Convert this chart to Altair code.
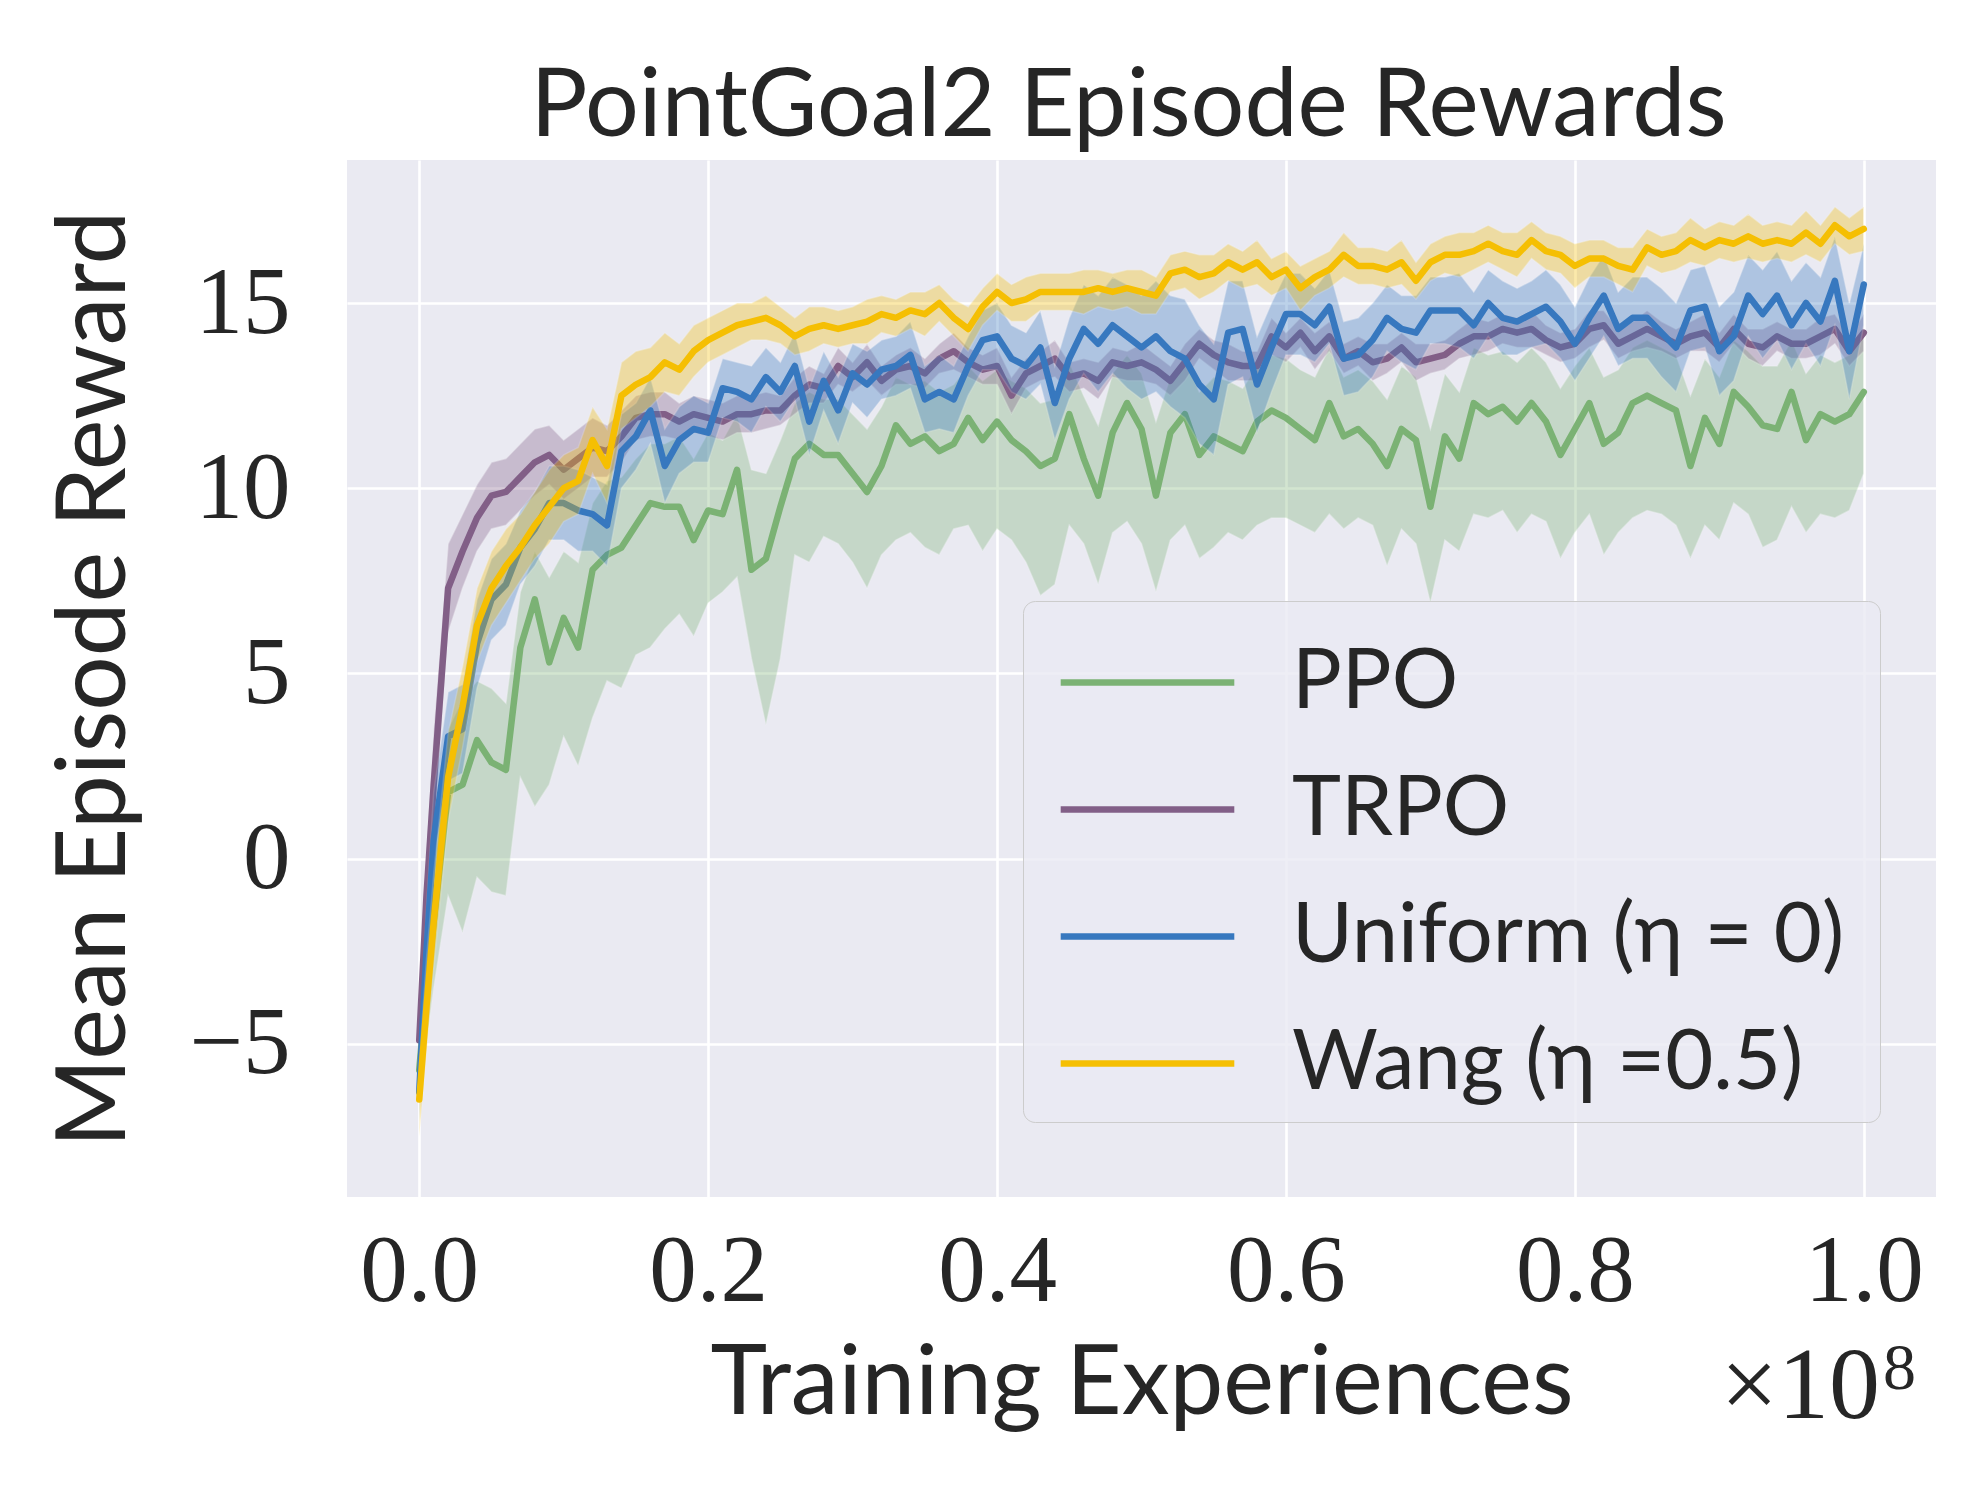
import altair as alt
import pandas as pd

# x grid (fraction of 1e8 training experiences)
X = [0.0, 0.005] + [round(0.01 * i, 2) for i in range(1, 101)]

SERIES = ["PPO", "TRPO", "Uniform (η = 0)", "Wang (η =0.5)"]
COLORS = ["#7bb274", "#825f87", "#3778bf", "#f5bf03"]

PPO_MEAN = [-5.7, -3.5, -1.7, 1.8, 2.0, 3.2, 2.6, 2.4, 5.7, 7.0,
            5.3, 6.5, 5.7, 7.8, 8.2, 8.4, 9.0, 9.6, 9.5, 9.5,
            8.6, 9.4, 9.3, 10.5, 7.8, 8.1, 9.5, 10.8, 11.2, 10.9,
            10.9, 10.4, 9.9, 10.6, 11.7, 11.2, 11.4, 11.0, 11.2, 11.9,
            11.3, 11.8, 11.3, 11.0, 10.6, 10.8, 12.0, 10.8, 9.8, 11.5,
            12.3, 11.6, 9.8, 11.5, 12.0, 10.9, 11.4, 11.2, 11.0, 11.8,
            12.1, 11.9, 11.6, 11.3, 12.3, 11.4,
            11.6, 11.2, 10.6, 11.6, 11.3, 9.5, 11.4, 10.8, 12.3, 12.0,
            12.2, 11.8, 12.3, 11.8, 10.9, 11.6, 12.3, 11.2, 11.5, 12.3,
            12.5, 12.3, 12.1, 10.6, 11.9, 11.2, 12.6, 12.2, 11.7, 11.6,
            12.6, 11.3, 12.0, 11.8, 12.0, 12.6]
PPO_LO = [-6.5, -5.0, -3.5, -1.0, -2.0, -0.5, -0.9, -1.0, 2.2, 1.4,
          2.0, 3.3, 2.5, 3.8, 4.8, 4.6, 5.5, 5.7, 6.2, 6.6,
          6.0, 6.9, 7.2, 7.6, 5.4, 3.6, 5.4, 8.2, 8.0, 8.7,
          8.5, 8.0, 7.3, 8.2, 8.6, 8.8, 8.4, 8.2, 8.9, 9.0,
          8.3, 8.9, 8.6, 8.0, 7.1, 7.4, 9.0, 8.5, 7.4, 8.8,
          9.1, 8.5, 7.2, 8.6, 9.0, 8.1, 8.4, 8.8, 8.6, 9.0,
          9.2, 9.2, 9.0, 8.8, 9.3, 8.9,
          9.2, 9.0, 7.9, 8.9, 8.5, 6.9, 8.6, 8.3, 9.3, 9.2,
          9.4, 8.8, 9.3, 9.1, 8.1, 8.8, 9.3, 8.2, 8.8, 9.2,
          9.4, 9.3, 9.0, 8.1, 9.0, 8.6, 9.6, 9.3, 8.4, 8.6,
          9.5, 8.8, 9.3, 9.2, 9.4, 10.4]
PPO_HI = [-5.0, -2.5, 0.0, 3.5, 4.3, 4.8, 4.6, 4.2, 7.2, 8.3,
          7.6, 8.3, 8.0, 9.6, 10.2, 10.3, 10.8, 11.2, 11.2, 11.4,
          10.8, 11.5, 11.3, 12.0, 10.5, 10.4, 11.3, 12.3, 12.6, 12.4,
          12.4, 12.0, 11.6, 12.2, 13.0, 12.8, 12.9, 12.6, 12.8, 13.3,
          12.9, 13.2, 12.9, 12.7, 12.3, 12.4, 13.4, 12.5, 11.7, 13.1,
          13.6, 13.1, 11.8, 13.0, 13.5, 12.6, 13.0, 12.9, 12.7, 13.3,
          13.6, 13.5, 13.2, 13.0, 13.8, 13.0,
          13.2, 12.9, 12.4, 13.3, 13.0, 11.6, 13.1, 12.6, 13.8, 13.6,
          13.7, 13.4, 13.8, 13.4, 12.7, 13.3, 13.8, 13.0, 13.2, 13.8,
          14.0, 13.8, 13.6, 12.5, 13.5, 13.0, 14.0, 13.7, 13.3, 13.3,
          14.0, 13.1, 13.6, 13.4, 13.6, 14.2]

TRPO_MEAN = [-4.9, -1.0, 2.0, 7.3, 8.3, 9.2, 9.8, 9.9, 10.3, 10.7,
             10.9, 10.5, 10.8, 11.1, 11.0, 11.4, 11.9, 12.0, 12.0, 11.8,
             12.0, 11.9, 11.8, 12.0, 12.0, 12.1, 12.1, 12.5, 12.8, 12.7,
             13.3, 13.0, 13.4, 12.9, 13.2, 13.3, 13.1, 13.5, 13.7, 13.4,
             13.2, 13.3, 12.5, 13.1, 13.3, 13.5, 13.0, 13.1, 12.9, 13.4,
             13.3, 13.4, 13.2, 12.9, 13.4, 13.9, 13.6, 13.4, 13.3, 13.3,
             14.1, 13.8, 14.2, 13.7, 14.1, 13.5,
             13.7, 13.4, 13.5, 13.8, 13.4, 13.5, 13.6, 13.9, 14.1, 14.1,
             14.3, 14.2, 14.3, 14.0, 13.8, 13.9, 14.3, 14.4, 13.9, 14.1,
             14.3, 14.1, 13.9, 14.1, 14.2, 13.8, 14.3, 13.9, 13.8, 14.1,
             13.9, 13.9, 14.1, 14.3, 13.7, 14.2]
TRPO_SPREAD = [0.8, 1.2, 1.5, 1.2, 1.0, 0.9, 0.9, 0.9, 0.9, 0.9,
               0.8, 0.8, 0.8, 0.8, 0.7, 0.7, 0.6, 0.6, 0.6, 0.5,
               0.5, 0.5, 0.5, 0.5, 0.5, 0.5, 0.4, 0.5, 0.5, 0.4,
               0.5, 0.4, 0.5, 0.4, 0.4, 0.5, 0.4, 0.4, 0.5, 0.4,
               0.4, 0.5, 0.5, 0.4, 0.4, 0.5, 0.4, 0.4, 0.5, 0.4,
               0.4, 0.5, 0.4, 0.4, 0.5, 0.4, 0.4, 0.5, 0.4, 0.4,
               0.5, 0.4, 0.4, 0.5, 0.4, 0.4,
               0.4, 0.5, 0.4, 0.4, 0.5, 0.4, 0.4, 0.4, 0.5, 0.4,
               0.4, 0.4, 0.5, 0.4, 0.4, 0.4, 0.5, 0.4, 0.4, 0.4,
               0.5, 0.4, 0.4, 0.4, 0.5, 0.4, 0.4, 0.4, 0.5, 0.4,
               0.4, 0.4, 0.5, 0.4, 0.4, 0.5]

UNI_MEAN = [-6.3, -2.5, 0.5, 3.3, 3.5, 5.8, 7.0, 7.4, 8.4, 8.9,
            9.6, 9.6, 9.4, 9.3, 9.0, 11.0, 11.4, 12.1, 10.6, 11.3,
            11.6, 11.5, 12.7, 12.6, 12.4, 13.0, 12.6, 13.3, 11.8, 12.9,
            12.1, 13.1, 12.8, 13.2, 13.3, 13.6, 12.4, 12.6, 12.4, 13.3,
            14.0, 14.1, 13.5, 13.3, 13.8, 12.3, 13.5, 14.3, 13.9, 14.4,
            14.1, 13.8, 14.1, 13.7, 13.5, 12.8, 12.4, 14.2, 14.3, 12.8,
            13.8, 14.7, 14.7, 14.4, 14.9, 13.5,
            13.6, 14.0, 14.6, 14.3, 14.2, 14.8, 14.8, 14.8, 14.4, 15.0,
            14.6, 14.5, 14.7, 14.9, 14.5, 13.9, 14.6, 15.2, 14.3, 14.6,
            14.6, 14.2, 13.8, 14.8, 14.9, 13.7, 14.1, 15.2, 14.7, 15.2,
            14.4, 15.0, 14.5, 15.6, 13.7, 15.5]
UNI_SPREAD = [0.8, 1.2, 1.3, 1.2, 1.2, 1.2, 1.1, 1.1, 1.0, 1.0,
              1.0, 1.0, 1.1, 1.0, 1.1, 1.0, 0.9, 0.9, 1.0, 0.9,
              0.9, 0.8, 0.8, 0.8, 0.9, 0.8, 0.8, 0.9, 0.9, 0.8,
              0.9, 0.8, 0.9, 0.8, 0.8, 0.9, 0.9, 1.0, 0.9, 0.8,
              0.8, 0.9, 0.9, 0.9, 1.0, 1.0, 1.1, 1.2, 1.3, 1.3,
              1.4, 1.4, 1.5, 1.5, 1.6, 1.6, 1.5, 1.4, 1.3, 1.3,
              1.2, 1.1, 1.1, 1.0, 1.0, 1.0,
              1.0, 1.0, 0.9, 0.9, 1.0, 0.9, 0.9, 1.0, 0.9, 0.9,
              1.0, 0.9, 0.9, 1.0, 1.0, 1.0, 1.1, 1.1, 1.0, 1.1,
              1.1, 1.2, 1.2, 1.1, 1.1, 1.2, 1.2, 1.1, 1.2, 1.2,
              1.2, 1.1, 1.2, 1.2, 1.3, 1.1]

WANG_MEAN = [-6.5, -4.0, -1.7, 2.2, 4.1, 6.3, 7.3, 7.9, 8.4, 9.0,
             9.5, 10.0, 10.2, 11.3, 10.6, 12.5, 12.8, 13.0, 13.4, 13.2,
             13.7, 14.0, 14.2, 14.4, 14.5, 14.6, 14.4, 14.1, 14.3, 14.4,
             14.3, 14.4, 14.5, 14.7, 14.6, 14.8, 14.7, 15.0, 14.6, 14.3,
             14.9, 15.3, 15.0, 15.1, 15.3, 15.3, 15.3, 15.3, 15.4, 15.3,
             15.4, 15.3, 15.2, 15.8, 15.9, 15.7, 15.8, 16.1, 15.9, 16.1,
             15.7, 15.9, 15.4, 15.7, 15.9, 16.3,
             16.0, 16.0, 15.9, 16.1, 15.6, 16.1, 16.3, 16.3, 16.4, 16.6,
             16.4, 16.3, 16.7, 16.4, 16.3, 16.0, 16.2, 16.2, 16.0, 15.9,
             16.5, 16.3, 16.4, 16.7, 16.5, 16.7, 16.6, 16.8, 16.6, 16.7,
             16.6, 16.9, 16.6, 17.1, 16.8, 17.0]
WANG_SPREAD = [1.0, 1.3, 1.3, 1.2, 1.1, 1.0, 1.0, 1.0, 0.9, 0.9,
               1.0, 0.9, 0.9, 0.9, 1.0, 0.9, 0.9, 0.8, 0.8, 0.7,
               0.7, 0.6, 0.6, 0.6, 0.5, 0.6, 0.5, 0.5, 0.6, 0.5,
               0.5, 0.5, 0.6, 0.5, 0.5, 0.5, 0.6, 0.5, 0.5, 0.6,
               0.5, 0.5, 0.5, 0.6, 0.5, 0.5, 0.5, 0.6, 0.5, 0.5,
               0.5, 0.6, 0.5, 0.5, 0.5, 0.6, 0.5, 0.5, 0.5, 0.6,
               0.5, 0.5, 0.6, 0.5, 0.5, 0.6,
               0.5, 0.5, 0.5, 0.6, 0.5, 0.5, 0.5, 0.6, 0.5, 0.5,
               0.5, 0.6, 0.5, 0.5, 0.5, 0.6, 0.5, 0.5, 0.5, 0.6,
               0.5, 0.5, 0.5, 0.6, 0.5, 0.5, 0.5, 0.6, 0.5, 0.5,
               0.5, 0.6, 0.5, 0.5, 0.5, 0.6]

X_TICKS = [0.0, 0.2, 0.4, 0.6, 0.8, 1.0]
Y_TICKS = [-5, 0, 5, 10, 15]

for arr in [PPO_MEAN, PPO_LO, PPO_HI, TRPO_MEAN, TRPO_SPREAD, UNI_MEAN,
            UNI_SPREAD, WANG_MEAN, WANG_SPREAD]:
    assert len(arr) == len(X), len(arr)

bands = {
    "PPO": (PPO_MEAN, PPO_LO, PPO_HI),
    "TRPO": (TRPO_MEAN, [m - s for m, s in zip(TRPO_MEAN, TRPO_SPREAD)],
             [m + s for m, s in zip(TRPO_MEAN, TRPO_SPREAD)]),
    "Uniform (η = 0)": (UNI_MEAN, [m - s for m, s in zip(UNI_MEAN, UNI_SPREAD)],
                        [m + s for m, s in zip(UNI_MEAN, UNI_SPREAD)]),
    "Wang (η =0.5)": (WANG_MEAN, [m - s for m, s in zip(WANG_MEAN, WANG_SPREAD)],
                      [m + s for m, s in zip(WANG_MEAN, WANG_SPREAD)]),
}

rows = []
for name in SERIES:
    m, lo, hi = bands[name]
    for x, a, l, h in zip(X, m, lo, hi):
        rows.append({"x": x, "y": a, "lo": l, "hi": h, "algo": name})
df = pd.DataFrame(rows)

TEXT = "#262626"
SANS = "Lato"
SERIF = "Liberation Serif"

W, H = 1589, 1037

xscale = alt.Scale(domain=[-0.05, 1.05], nice=False, zero=False)
yscale = alt.Scale(domain=[-9.13, 18.86], nice=False, zero=False)
cscale = alt.Scale(domain=SERIES, range=COLORS)

xaxis = alt.Axis(values=X_TICKS, format=".1f", title="Training Experiences",
                 labelBaseline="alphabetic", labelPadding=103,
                 titleY=216, titleBaseline="alphabetic")
yaxis = alt.Axis(values=Y_TICKS, format="d", title="Mean Episode Reward",
                 labelPadding=57, titleX=-252, titleY=H / 2,
                 titleBaseline="middle", titleAlign="center", titleAngle=270)

legend = alt.Legend(title=None, orient="none", legendX=676, legendY=441,
                    symbolType="M-1.4,0H1.4", symbolSize=15376,
                    symbolStrokeWidth=6.5, symbolOffset=43,
                    labelFont=SANS, labelFontSize=83, labelColor=TEXT,
                    labelOffset=79, rowPadding=19, padding=16, labelLimit=2000,
                    labelExpr="datum.label + '\u00a0\u200b'",
                    fillColor="rgba(234,234,242,0.8)", strokeColor="#cccccc",
                    cornerRadius=12)

layers = []
for i, name in enumerate(SERIES):
    base = alt.Chart(df).transform_filter(alt.datum.algo == name)
    band = base.mark_area(color=COLORS[i], opacity=0.33, stroke="white",
                          strokeWidth=1.5, strokeOpacity=0.45).encode(
        x=alt.X("x:Q", scale=xscale, axis=xaxis),
        y=alt.Y("lo:Q", scale=yscale, axis=yaxis),
        y2="hi:Q",
    )
    line = base.mark_line(strokeWidth=6.5, strokeJoin="round",
                          strokeCap="round").encode(
        x=alt.X("x:Q", scale=xscale, axis=xaxis),
        y=alt.Y("y:Q", scale=yscale, axis=yaxis),
        color=alt.Color("algo:N", scale=cscale, legend=legend),
    )
    layers += [band, line]

note = alt.Chart(alt.Data(values=[{}]))
offset_a = note.mark_text(text="×10", font=SERIF, fontSize=102, color=TEXT,
                          align="right", baseline="alphabetic").encode(
    x=alt.value(1533), y=alt.value(1258))
offset_b = note.mark_text(text="8", font=SERIF, fontSize=66, color=TEXT,
                          align="left", baseline="alphabetic").encode(
    x=alt.value(1536), y=alt.value(1229))

chart = alt.layer(*layers, offset_a, offset_b).properties(
    width=W, height=H,
    title=alt.TitleParams("PointGoal2 Episode Rewards", font=SANS, fontSize=95,
                          fontWeight="normal", color=TEXT, anchor="middle",
                          baseline="bottom", offset=-91, dx=-13),
    padding={"left": 339, "top": 152, "right": 30, "bottom": 270},
    autosize=alt.AutoSizeParams(type="none"),
    background="white",
).configure_view(fill="#EAEAF2", stroke=None).configure_axis(
    grid=True, gridColor="white", gridWidth=2.6, domain=False, ticks=False,
    labelFont=SERIF, labelFontSize=95, labelColor=TEXT,
    titleFont=SANS, titleFontSize=96, titleColor=TEXT, titleFontWeight="normal",
)

chart.save("out.html", embed_options={"renderer": "svg", "actions": False})
